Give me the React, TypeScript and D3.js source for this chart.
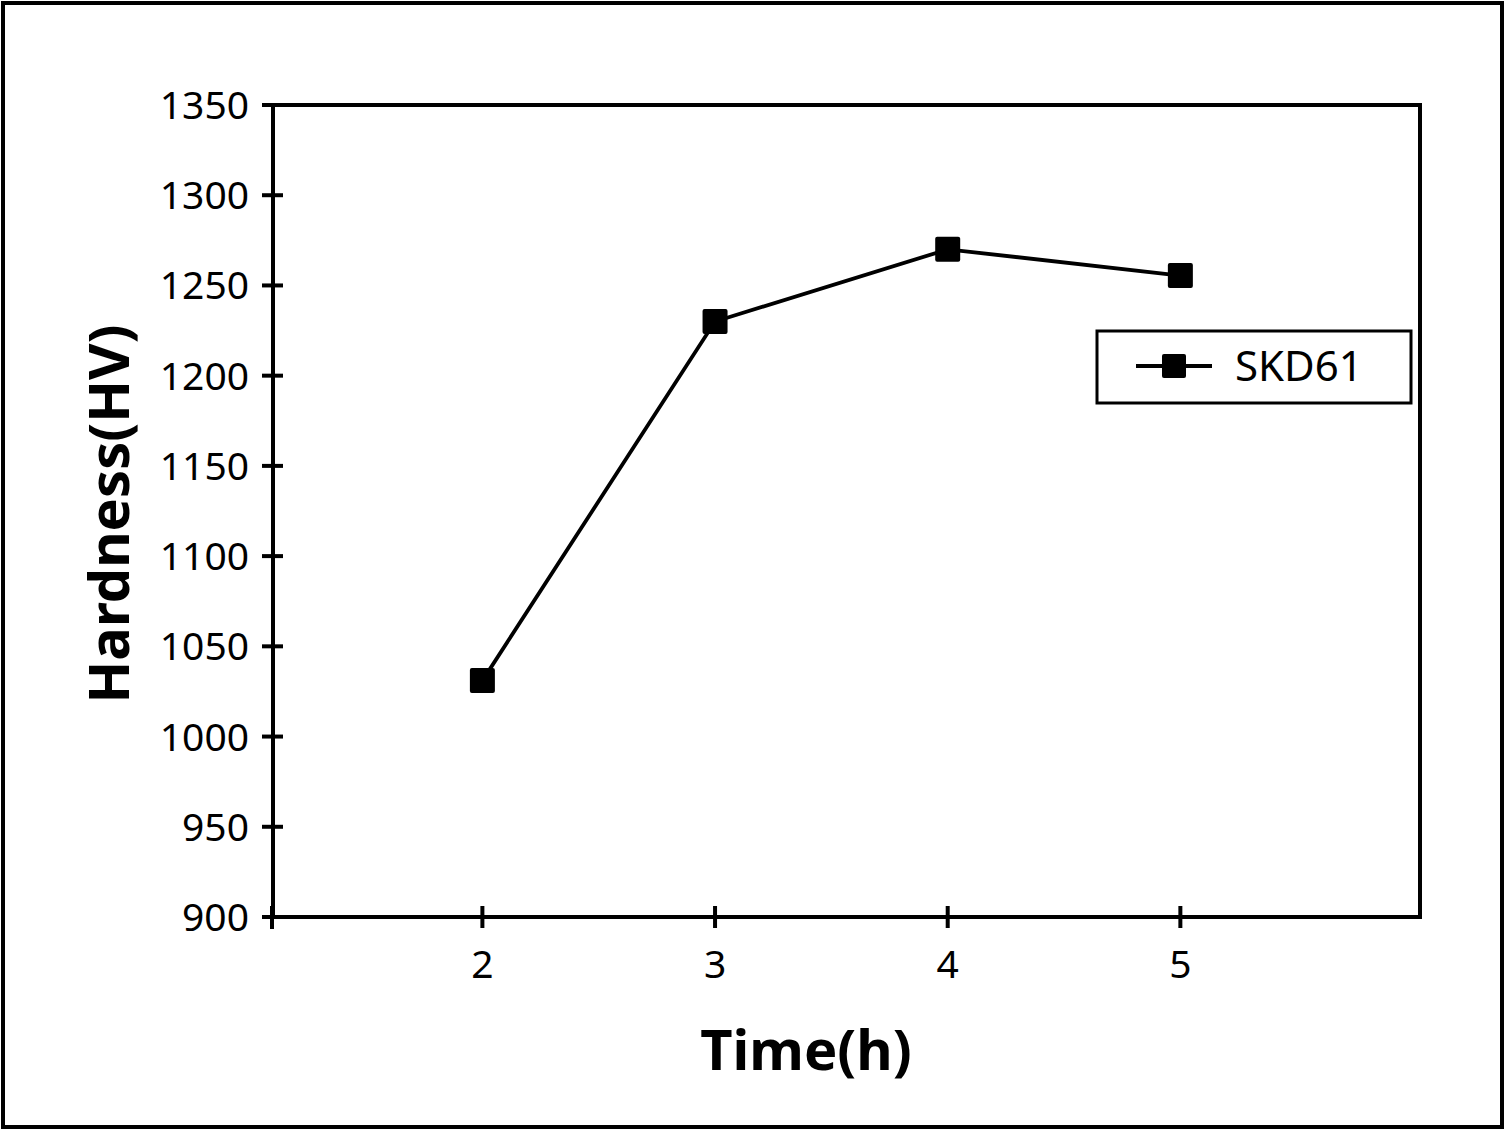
import React from "react";
import * as d3 from "d3";

const times = [2, 3, 4, 5];
const hardness = [1031, 1230, 1270, 1255.5];
const yTicks = [900, 950, 1000, 1050, 1100, 1150, 1200, 1250, 1300, 1350];
const xTicks = [2, 3, 4, 5];
const seriesName = "SKD61";
const xTitle = "Time(h)";
const yTitle = "Hardness(HV)";

const W = 1506;
const H = 1131;
const plot = { left: 273, right: 1420, top: 105, bottom: 917 };
const FONT = "'Noto Sans', 'Open Sans', sans-serif";

export default function App() {
  const x = d3.scaleLinear().domain([1.1, 6.03]).range([plot.left, plot.right]);
  const y = d3.scaleLinear().domain([900, 1350]).range([plot.bottom, plot.top]);
  const line = d3
    .line<number>()
    .x((_, i) => x(times[i]))
    .y((d) => y(d));
  const ms = 25;
  return (
    <svg
      width={W}
      height={H}
      style={{ position: "absolute", left: 0, top: 0, background: "#fff" }}
      fontFamily={FONT}
    >
      <rect x={0} y={0} width={W} height={H} fill="#fff" />
      <rect x={3} y={3} width={1499} height={1124} fill="none" stroke="#000" strokeWidth={4} />
      {/* plot frame */}
      <rect
        x={plot.left}
        y={plot.top}
        width={plot.right - plot.left}
        height={plot.bottom - plot.top}
        fill="none"
        stroke="#000"
        strokeWidth={4}
      />
      {/* y ticks */}
      {yTicks.map((t) => (
        <g key={t}>
          <line x1={plot.left - 11} x2={plot.left + 10} y1={y(t)} y2={y(t)} stroke="#000" strokeWidth={4} />
          <text x={plot.left - 24} y={y(t)} dy="0.36em" textAnchor="end" fontSize={39} fill="#000">
            {t}
          </text>
        </g>
      ))}
      {/* x ticks */}
      <line x1={plot.left - 1} x2={plot.left - 1} y1={plot.bottom - 11} y2={plot.bottom + 12} stroke="#000" strokeWidth={4} />
      {xTicks.map((t) => (
        <g key={t}>
          <line x1={x(t)} x2={x(t)} y1={plot.bottom - 11} y2={plot.bottom + 11} stroke="#000" strokeWidth={4} />
          <text x={x(t)} y={978} textAnchor="middle" fontSize={39} fill="#000">
            {t}
          </text>
        </g>
      ))}
      {/* series */}
      <path d={line(hardness) || ""} fill="none" stroke="#000" strokeWidth={3.8} />
      {hardness.map((v, i) => (
        <rect
          key={i}
          x={x(times[i]) - ms / 2}
          y={y(v) - ms / 2}
          width={ms}
          height={ms}
          rx={2}
          fill="#000"
        />
      ))}
      {/* legend */}
      <rect x={1097} y={331} width={314} height={72} fill="#fff" stroke="#000" strokeWidth={3} />
      <line x1={1136} x2={1212} y1={366} y2={366} stroke="#000" strokeWidth={3.8} />
      <rect x={1174 - 12} y={366 - 12} width={24} height={24} rx={2} fill="#000" />
      <text x={1235} y={381} fontSize={42} fill="#000">
        {seriesName}
      </text>
      {/* axis titles */}
      <text x={806} y={1070} textAnchor="middle" fontSize={56} fontWeight="bold" fill="#000">
        {xTitle}
      </text>
      <text
        transform={`translate(129, 514) rotate(-90)`}
        textAnchor="middle"
        fontSize={56}
        fontWeight="bold"
        fill="#000"
      >
        {yTitle}
      </text>
    </svg>
  );
}
